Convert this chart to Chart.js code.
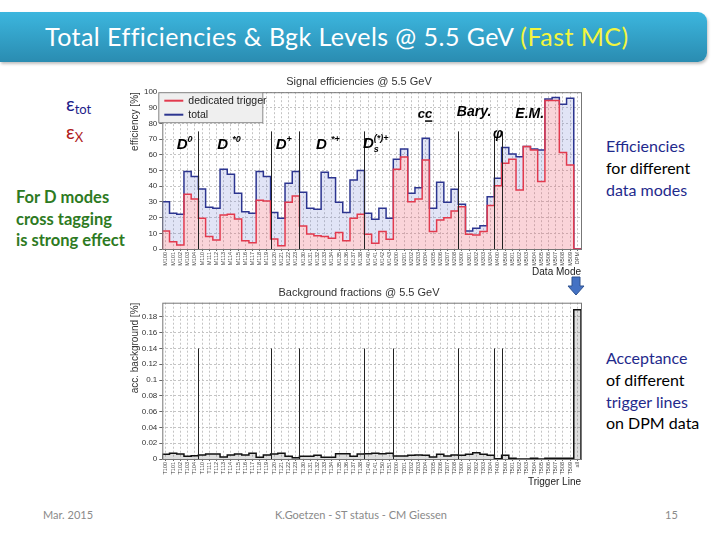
<!DOCTYPE html>
<html>
<head>
<meta charset="utf-8">
<script src="https://cdn.jsdelivr.net/npm/chart.js@4.4.1/dist/chart.umd.min.js"></script>
<style>
body { margin: 0; width: 720px; height: 540px; background: #fff; position: relative; overflow: hidden; font-family: Lato, "Open Sans", sans-serif; }
.bar { position: absolute; left: 0; top: 12px; width: 707px; height: 50px; border-radius: 0 9px 9px 0;
       background: linear-gradient(#3cb6de, #2a8cb1); box-shadow: 1px 2px 3px rgba(0,0,0,.25); }
.bar .t { position: absolute; left: 45px; top: 9px; font-size: 25px; letter-spacing: 0.45px; color: #fff; white-space: nowrap; line-height: 1.2; }
.yel { color: #f3f53e; }
.abs { position: absolute; white-space: nowrap; }
.eps { font-size: 19px; line-height: 1.2; }
.eps sub { font-size: 13px; vertical-align: -3px; }
.green { left: 16px; top: 187px; font-size: 16.5px; font-weight: bold; line-height: 21.5px; color: #2d7a22; }
.side { left: 606px; font-size: 16px; line-height: 21.8px; color: #000; }
.side .b { color: #1f2a8c; }
.foot { font-size: 11px; color: #8a8a8a; top: 508px; line-height: 1.2; }
canvas { position: absolute; }
</style>
</head>
<body>

<div class="bar"><span class="t">Total Efficiencies &amp; Bgk Levels @ 5.5 GeV <span class="yel">(Fast MC)</span></span></div>

<div class="abs eps" style="left:66px;top:93px;color:#1d1d8a">ε<sub>tot</sub></div>
<div class="abs eps" style="left:66px;top:121px;color:#b01c1c">ε<sub>X</sub></div>

<div class="abs green">For D modes<br>cross tagging<br>is strong effect</div>

<div class="abs side" style="top:135px"><span class="b">Efficiencies</span><br>for different<br><span class="b">data modes</span></div>
<div class="abs side" style="top:347px"><span class="b">Acceptance</span><br>of different<br><span class="b">trigger lines</span><br>on DPM data</div>

<div class="abs foot" style="left:43px">Mar. 2015</div>
<div class="abs foot" style="left:275px">K.Goetzen - ST status - CM Giessen</div>
<div class="abs foot" style="left:665px">15</div>

<svg class="abs" style="left:567px;top:276px" width="18" height="20">
  <polygon points="5,1 13,1 13,10 17,10 9,19 1,10 5,10" fill="#4472c4" stroke="#2f528f" stroke-width="1"/>
</svg>

<canvas id="effChart" width="482" height="212" style="left:118px;top:72px"></canvas>
<canvas id="bkgChart" width="482" height="208" style="left:118px;top:282px"></canvas>

<script>
// data modes (bins) of the signal efficiency plot
const modeLabels = [
  'M100','M101','M102','M103','M104',
  'M110','M111','M112','M113','M114','M115','M116','M117','M118','M119',
  'M120','M121','M122','M123',
  'M130','M131','M132','M133','M134','M135','M136','M137','M138',
  'M140','M141','M142','M143',
  'M200','M201','M202','M203','M204','M205','M206','M207','M208',
  'M300','M301','M302','M303','M304',
  'M400',
  'M500','M501','M502','M503','M504','M505','M506','M507','M508','M509',
  'DPM'
];

// efficiency in %
const totalEff = [
  30.2, 22.8, 22.1, 49.4, 46.2,
  38.3, 26.6, 26.0, 50.9, 47.7, 35.5, 23.8, 22.8, 49.4, 46.2,
  23.2, 19.6, 41.9, 49.4,
  36.2, 26.0, 25.3, 48.9, 45.5, 29.8, 23.2, 44.0, 50.0,
  22.8, 18.9, 26.0, 19.6,
  57.2, 63.8, 35.5, 39.1, 70.6, 26.0, 42.6, 29.8, 38.1,
  28.5, 11.5, 13.2, 14.9, 33.4,
  45.1,
  64.7, 60.6, 58.9, 65.3, 63.8, 63.2, 95.7, 96.6, 92.3, 96.2,
  0
];
const dedicatedEff = [
  11.5, 4.7, 2.6, 34.9, 31.9,
  19.6, 7.9, 5.7, 21.7, 22.1, 19.1, 5.3, 4.0, 31.1, 30.6,
  6.4, 2.1, 29.8, 33.8,
  14.7, 9.6, 8.5, 7.9, 6.8, 10.6, 5.3, 19.6, 22.1,
  9.4, 3.6, 11.1, 6.2,
  50.9, 58.7, 30.2, 31.9, 56.8, 11.1, 18.5, 20.0, 24.3,
  27.0, 9.4, 8.9, 11.1, 27.7,
  40.4,
  54.7, 57.2, 37.7, 65.3, 63.2, 43.0, 94.7, 94.7, 61.5, 53.6,
  0
];

// trigger lines of the background plot
const triggerLabels = [
  'T100','T101','T102','T103','T104',
  'T110','T111','T112','T113','T114','T115','T116','T117','T118','T119',
  'T120','T121','T122','T123',
  'T130','T131','T132','T133','T134','T135','T136','T137','T138',
  'T140','T141','T150','T151',
  'T200','T201','T202','T203','T204','T205','T206','T207','T208',
  'T300','T301','T302','T303','T304',
  'T400',
  'T500','T501','T502','T503','T504','T505','T506','T507','T508','T509',
  'all'
];

// accepted background in %
const bkgFraction = [
  0.0059, 0.0072, 0.0063, 0.0034, 0.0042,
  0.0050, 0.0063, 0.0063, 0.0025, 0.0050, 0.0063, 0.0050, 0.0072, 0.0021, 0.0050,
  0.0063, 0.0072, 0.0034, 0.0017,
  0.0034, 0.0034, 0.0046, 0.0021, 0.0021, 0.0067, 0.0067, 0.0035, 0.0063,
  0.0067, 0.0072, 0.0067, 0.0072,
  0.0038, 0.0038, 0.0046, 0.0050, 0.0046, 0.0025, 0.0059, 0.0038, 0.0050,
  0.0046, 0.0059, 0.0080, 0.0059, 0.0046,
  0.0004,
  0.0046, 0.0008, 0, 0, 0.0008, 0, 0.0008, 0.0008, 0.0008, 0.0008,
  0.189
];

// bin edges where a group of modes ends
const effSeparators = [5, 15, 19, 28, 41, 46, 47];
const bkgSeparators = [5, 15, 19, 28, 32, 41, 46, 47];

// group names (k: p = superscript, s = subscript, u = underline)
const modeGroups = [
  [{t: 'D'}, {t: '0', k: 'p'}],
  [{t: 'D '}, {t: '*0', k: 'p'}],
  [{t: 'D'}, {t: '+', k: 'p'}],
  [{t: 'D '}, {t: '*+', k: 'p'}],
  [{t: 'D'}, {t: 's', k: 's'}, {t: '(*)+', k: 'p'}],
  [{t: 'c'}, {t: 'c', u: true}],
  [{t: 'Bary.'}],
  [{t: 'φ'}],
  [{t: 'E.M.'}]
];
// where the group names sit: [bin, efficiency, font size]
const modeGroupPos = [
  [2.0, 64, 15], [7.6, 64, 15], [15.7, 64, 15], [21.3, 64, 15], [27.8, 64.5, 15],
  [35.4, 83.5, 13], [40.8, 85, 14], [45.8, 71, 14], [48.9, 83.5, 14]
];

const axisFont = '"Liberation Sans", Arial, sans-serif';

function histPoints(values) {
  let pts = [{x: 0, y: 0}];
  values.forEach((v, i) => pts.push({x: i, y: v}));
  pts.push({x: values.length, y: 0});
  return pts;
}

function decor(cfg) {
  return {
    id: 'decor',
    afterDatasetsDraw(chart) {
      const ctx = chart.ctx, a = chart.chartArea;
      const x = chart.scales.x, y = chart.scales.y;
      ctx.save();
      ctx.strokeStyle = '#222';
      ctx.lineWidth = 1;
      cfg.separators.forEach(b => {
        const px = Math.round(x.getPixelForValue(b)) + 0.5;
        ctx.beginPath();
        ctx.moveTo(px, y.getPixelForValue(0));
        ctx.lineTo(px, y.getPixelForValue(cfg.sepHeight));
        ctx.stroke();
      });
      ctx.strokeStyle = '#777';
      ctx.strokeRect(a.left + 0.5, a.top + 0.5, a.right - a.left, a.bottom - a.top);

      ctx.fillStyle = '#000';
      ctx.textBaseline = 'alphabetic';
      (cfg.groups || []).forEach((g, i) => {
        const pos = cfg.groupPos[i];
        let px = x.getPixelForValue(pos[0]);
        const py = y.getPixelForValue(pos[1]);
        let subX = null;
        g.forEach(p => {
          const k = p.k || 'b';
          const size = k == 'b' ? pos[2] : Math.round(pos[2] * 0.62);
          ctx.font = 'italic bold ' + size + 'px ' + axisFont;
          let startX = px;
          if (k == 'p' && subX !== null) startX = subX;
          if (k == 's') subX = px;
          const dy = k == 'p' ? -pos[2] * 0.45 : k == 's' ? pos[2] * 0.3 : 0;
          ctx.fillText(p.t, startX, py + dy);
          const w = ctx.measureText(p.t).width;
          if (p.u) {
            ctx.beginPath();
            ctx.lineWidth = 1.5;
            ctx.strokeStyle = '#000';
            ctx.moveTo(startX, py + 3);
            ctx.lineTo(startX + w, py + 3);
            ctx.stroke();
          }
          px = Math.max(px, startX + w);
        });
      });
      ctx.restore();
    },
    afterDraw(chart) {
      if (!cfg.legend) return;
      const ctx = chart.ctx, a = chart.chartArea;
      ctx.save();
      ctx.fillStyle = '#efefef';
      ctx.strokeStyle = '#888';
      ctx.lineWidth = 1;
      ctx.fillRect(a.left - 4, a.top, 104, 30);
      ctx.strokeRect(a.left - 3.5, a.top + 0.5, 104, 30);
      ctx.font = '10.5px ' + axisFont;
      ctx.textBaseline = 'middle';
      chart.data.datasets.forEach((ds, i) => {
        const yy = a.top + 8.5 + i * 14;
        ctx.strokeStyle = ds.borderColor;
        ctx.lineWidth = 2;
        ctx.beginPath();
        ctx.moveTo(a.left + 2, yy);
        ctx.lineTo(a.left + 21, yy);
        ctx.stroke();
        ctx.fillStyle = '#222';
        ctx.fillText(ds.label, a.left + 26, yy);
      });
      ctx.restore();
    }
  };
}

function binAxis(labels, title, height, titlePad) {
  return {
    type: 'linear',
    min: 0,
    max: labels.length,
    afterBuildTicks: scale => {
      scale.ticks = labels.map((l, i) => ({value: i + 0.5}));
    },
    afterFit: scale => { scale.height = height; },
    ticks: {
      autoSkip: false,
      maxRotation: 90,
      minRotation: 90,
      padding: 1,
      color: '#444',
      font: {family: axisFont, size: 5.5},
      callback: (v, i) => labels[i]
    },
    grid: {color: '#c4c4c4', tickLength: 2, tickColor: '#666'},
    border: {display: false, dash: [2, 2]},
    title: {
      display: true, text: title, align: 'end', color: '#222',
      font: {family: axisFont, size: 10}, padding: {top: 0, bottom: titlePad}
    }
  };
}

// empty strip on the right so the chart title centres on the whole pad
const rightGap = {
  type: 'linear',
  position: 'right',
  afterFit: scale => { scale.width = 19; },
  ticks: {display: false},
  grid: {display: false},
  border: {display: false}
};

new Chart(document.getElementById('effChart'), {
  type: 'line',
  data: {
    datasets: [{
      label: 'dedicated trigger',
      data: histPoints(dedicatedEff),
      borderColor: '#e23a4e',
      backgroundColor: 'rgba(235,90,110,0.26)',
      fill: 'origin',
      order: 0
    }, {
      label: 'total',
      data: histPoints(totalEff),
      borderColor: '#2c3590',
      backgroundColor: 'rgba(120,130,215,0.22)',
      fill: 0,
      order: 1
    }]
  },
  options: {
    responsive: false,
    animation: false,
    elements: {
      line: {stepped: true, borderWidth: 1.5, tension: 0},
      point: {radius: 0}
    },
    scales: {
      x: binAxis(modeLabels, 'Data Mode', 35, 6),
      y: {
        min: 0,
        max: 100,
        afterFit: scale => { scale.width = 44.3; },
        ticks: {stepSize: 10, padding: 2, color: '#333', font: {family: axisFont, size: 8}},
        grid: {color: '#c4c4c4', tickLength: 3, tickColor: '#666'},
        border: {display: false, dash: [2, 2]},
        title: {
          display: true, text: 'efficiency [%]', align: 'end', color: '#333',
          font: {family: axisFont, size: 10}, padding: {top: 11, bottom: 0}
        }
      },
      gap: rightGap
    },
    plugins: {
      legend: {display: false},
      tooltip: {enabled: false},
      title: {
        display: true, text: 'Signal efficiencies @ 5.5 GeV', color: '#333',
        font: {family: axisFont, size: 11, weight: 'normal'}, padding: {top: 3, bottom: 4}
      }
    }
  },
  plugins: [decor({
    separators: effSeparators, sepHeight: 75,
    groups: modeGroups, groupPos: modeGroupPos, legend: true
  })]
});

new Chart(document.getElementById('bkgChart'), {
  type: 'line',
  data: {
    datasets: [{
      label: 'background',
      data: histPoints(bkgFraction),
      borderColor: '#111',
      backgroundColor: 'rgba(0,0,0,0.13)',
      fill: 'origin'
    }]
  },
  options: {
    responsive: false,
    animation: false,
    elements: {
      line: {stepped: true, borderWidth: 1.5, tension: 0},
      point: {radius: 0}
    },
    scales: {
      x: binAxis(triggerLabels, 'Trigger Line', 31, 2),
      y: {
        min: 0,
        max: 0.198,
        afterBuildTicks: scale => {
          scale.ticks = scale.ticks.filter(t => Math.abs(t.value / 0.02 - Math.round(t.value / 0.02)) < 1e-6);
        },
        afterFit: scale => { scale.width = 44.3; },
        ticks: {
          stepSize: 0.02, padding: 2, color: '#333', font: {family: axisFont, size: 8},
          callback: v => String(Number(v.toFixed(2)))
        },
        grid: {color: '#c4c4c4', tickLength: 3, tickColor: '#666'},
        border: {display: false, dash: [2, 2]},
        title: {
          display: true, text: 'acc. background [%]', align: 'end', color: '#333',
          font: {family: axisFont, size: 10}, padding: {top: 11, bottom: 0}
        }
      },
      gap: rightGap
    },
    plugins: {
      legend: {display: false},
      tooltip: {enabled: false},
      title: {
        display: true, text: 'Background fractions @ 5.5 GeV', color: '#333',
        font: {family: axisFont, size: 11, weight: 'normal'}, padding: {top: 4, bottom: 3.5}
      }
    }
  },
  plugins: [decor({separators: bkgSeparators, sepHeight: 0.14})]
});
</script>
</body>
</html>
